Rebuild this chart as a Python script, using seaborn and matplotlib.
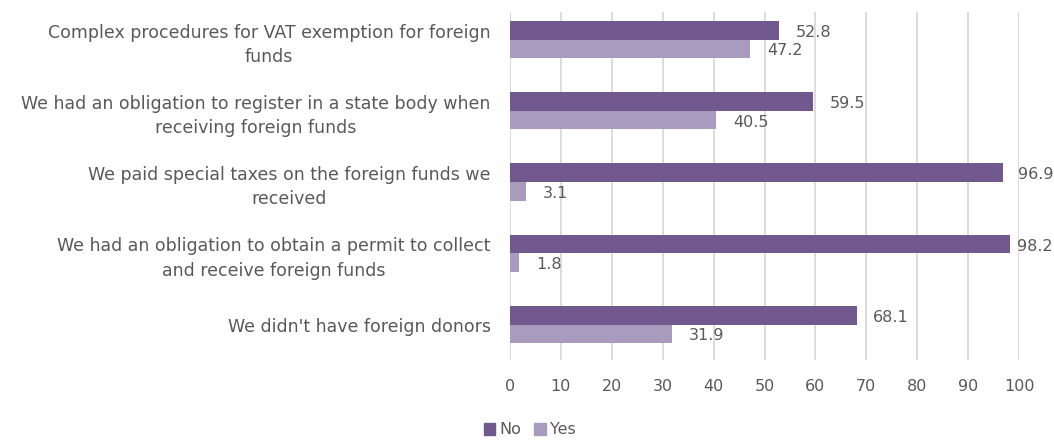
import numpy as np
import pandas as pd
import seaborn as sns
import matplotlib.pyplot as plt

categories = [
    "Complex procedures for VAT exemption for foreign\nfunds",
    "We had an obligation to register in a state body when\nreceiving foreign funds",
    "We paid special taxes on the foreign funds we\nreceived",
    "We had an obligation to obtain a permit to collect\nand receive foreign funds",
    "We didn't have foreign donors",
]
no_values = [52.8, 59.5, 96.9, 98.2, 68.1]
yes_values = [47.2, 40.5, 3.1, 1.8, 31.9]
series = ["No", "Yes"]
colors = ["#71588F", "#A99BBD"]
x_ticks = list(range(0, 101, 10))

df = pd.DataFrame({
    "category": categories * 2,
    "value": no_values + yes_values,
    "answer": ["No"] * len(categories) + ["Yes"] * len(categories),
})

sns.set_style("white")
plt.rcParams['font.family'] = ['DejaVu Sans']
text_color = "#595959"

W, H = 1054, 441
fig = plt.figure(figsize=(W / 100, H / 100), dpi=100)
ax = fig.add_axes([510 / W, 1 - 360 / H, 509 / W, 348 / H])

sns.barplot(data=df, y="category", x="value", hue="answer", order=categories,
            hue_order=series, palette=colors, width=0.52, orient="h",
            saturation=1, linewidth=0, ax=ax, legend=False)

labels = []
for cont in ax.containers:
    labels += ax.bar_label(cont, fmt="%.1f", padding=12, fontsize=11.5, color=text_color)

ax.set_xlim(0, 100)
ax.set_ylim(4.498, -0.386)
ax.set_xticks(x_ticks)
ax.grid(axis="x", color="#D9D9D9", linewidth=1.3)
ax.set_axisbelow(True)
for s in ax.spines.values():
    s.set_visible(False)
ax.tick_params(axis="both", length=0, labelsize=11.5, colors=text_color)
ax.tick_params(axis="x", pad=14)
ax.tick_params(axis="y", pad=14)
for lbl in ax.get_yticklabels():
    lbl.set_multialignment("center")
    lbl.set_linespacing(1.45)
    lbl.set_fontsize(12.5)
ax.set_xlabel("")
ax.set_ylabel("")

handles = [plt.Rectangle((0, 0), 1, 1, color=c) for c in colors]
fig.legend(handles, series, loc="center", bbox_to_anchor=(530 / W, 1 - 430 / H),
           ncol=2, frameon=False, fontsize=11.5, handlelength=0.7, handleheight=0.7,
           handletextpad=0.3, columnspacing=0.8, labelcolor=text_color)

# labels sit a touch below bar centre; keep them inside the figure like Excel does
for t in labels:
    t.xyann = (t.xyann[0], -1.5)
fig.canvas.draw()
renderer = fig.canvas.get_renderer()
for t in labels:
    bb = t.get_window_extent(renderer)
    if bb.x1 > W - 1:
        shift_pt = (W - 1 - bb.x1) * 72 / 100
        t.xyann = (t.xyann[0] + shift_pt, t.xyann[1])

fig.savefig("out.png", dpi=100)
